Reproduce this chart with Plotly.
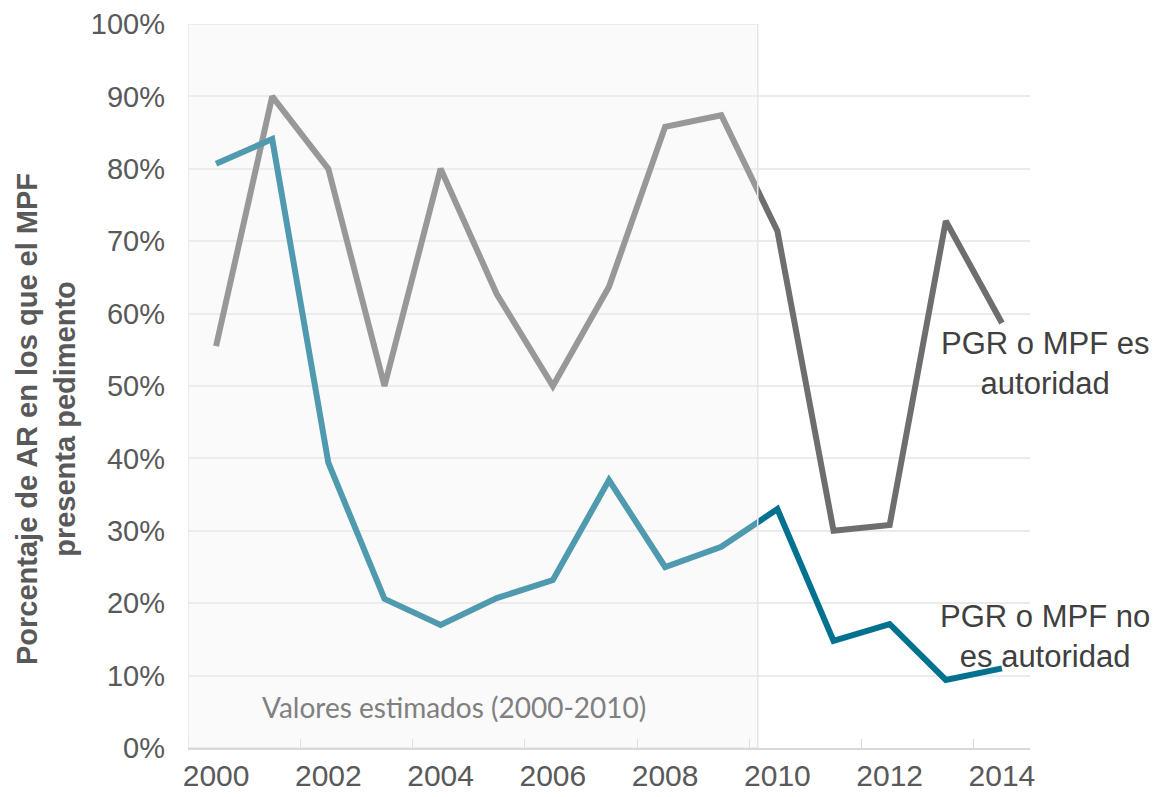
import plotly.graph_objects as go

years = list(range(2000, 2015))
es_autoridad = [0.555, 0.90, 0.80, 0.50, 0.80, 0.627, 0.50, 0.637, 0.858, 0.874,
                0.714, 0.30, 0.308, 0.728, 0.587]
no_autoridad = [0.807, 0.841, 0.394, 0.206, 0.17, 0.207, 0.232, 0.37, 0.25, 0.278,
                0.33, 0.148, 0.171, 0.094, 0.11]
tick_years = [2000, 2002, 2004, 2006, 2008, 2010, 2012, 2014]

FONT = "Liberation Sans, Arial, sans-serif"
GRAY = "#6e6e6e"
BLUE = "#00718f"
TXT = "#595959"

L, R, T, B = 188, 132, 24, 49
PW, PH = 1162 - L - R, 797 - T - B


def px(xp):
    return (xp - L) / PW


def py(yp):
    return (797 - B - yp) / PH


fig = go.Figure()
fig.add_trace(go.Scatter(x=years, y=es_autoridad, mode="lines",
                         line=dict(color=GRAY, width=6), showlegend=False))
fig.add_trace(go.Scatter(x=years, y=no_autoridad, mode="lines",
                         line=dict(color=BLUE, width=6), showlegend=False))

# shaded "estimated values" region, drawn above to lighten lines
fig.add_shape(type="rect", xref="x", yref="y", x0=1999.5, x1=2009.65, y0=0, y1=1,
              fillcolor="rgba(240,240,240,0.33)", line=dict(color="#e6e6e6", width=1.5),
              layer="above")

fig.add_annotation(x=px(454), y=py(707), xref="paper", yref="paper",
                   text="Valores estimados (2000-2010)", xanchor="center", yanchor="middle",
                   showarrow=False, font=dict(family="Lato, Open Sans, sans-serif", size=28, color="#808080"))

fig.add_annotation(x=px(1045), y=py(363), xref="paper", yref="paper",
                   text="PGR o MPF es<br>autoridad", showarrow=False, align="center",
                   xanchor="center", yanchor="middle",
                   font=dict(family=FONT, size=31, color="#404040"))
fig.add_annotation(x=px(1045), y=py(636), xref="paper", yref="paper",
                   text="PGR o MPF no<br>es autoridad", showarrow=False, align="center",
                   xanchor="center", yanchor="middle",
                   font=dict(family=FONT, size=31, color="#404040"))

fig.add_annotation(x=px(46), y=py(419), xref="paper", yref="paper",
                   text="<b>Porcentaje de AR en los que el MPF<br>presenta pedimento</b>",
                   textangle=-90, showarrow=False, xanchor="center", yanchor="middle",
                   font=dict(family=FONT, size=29, color=TXT))

fig.update_layout(
    width=1162, height=797,
    margin=dict(l=L, r=R, t=T, b=B, autoexpand=False),
    paper_bgcolor="white", plot_bgcolor="white",
    font=dict(family=FONT, size=28, color=TXT),
    xaxis=dict(range=[1999.5, 2014.5], tickvals=tick_years, ticktext=[str(y) for y in tick_years],
               ticks="", showgrid=False, zeroline=False, showline=True, linecolor="#d9d9d9",
               linewidth=1.5, ticklabelstandoff=0, tickfont=dict(size=30, color=TXT),
               automargin=False,
               minor=dict(tick0=1999.5, dtick=2, ticks="inside", ticklen=9,
                          tickcolor="#d9d9d9", showgrid=False)),
    yaxis=dict(range=[0, 1], dtick=0.1, tickformat=".0%", showgrid=True, gridcolor="#ebebeb",
               gridwidth=1.5, zeroline=False, showline=False, ticklabelstandoff=22,
               automargin=False, tickfont=dict(size=29, color=TXT)),
)

fig.write_html("out.html", config={"displayModeBar": False},
               post_script="document.body.style.margin='0';")
